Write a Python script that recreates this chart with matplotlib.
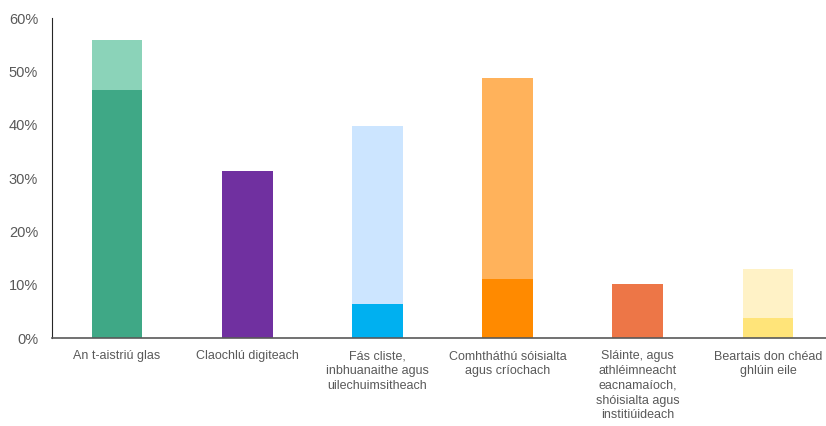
import matplotlib
matplotlib.use("Agg")
import matplotlib.pyplot as plt
import matplotlib.ticker as mticker

categories = [
    "An t-aistriú glas",
    "Claochlú digiteach",
    "Fás cliste,\ninbhuanaithe agus\nuilechuimsitheach",
    "Comhtháthú sóisialta\nagus críochach",
    "Sláinte, agus\nathléimneacht\neacnamaíoch,\nshóisialta agus\ninstitiúideach",
    "Beartais don chéad\nghlúin eile",
]
base_vals = [46.5, 31.3, 6.3, 11.0, 10.2, 3.8]
top_vals = [9.4, 0.0, 33.5, 37.8, 0.0, 9.1]

base_colors = ["#3FA886", "#7030A0", "#00B0F0", "#FF8A00", "#ED7647", "#FFE479"]
top_colors = ["#8BD3B9", "#7030A0", "#CCE5FF", "#FFB25B", "#ED7647", "#FFF2C6"]

plt.rcParams["font.family"] = ["Liberation Sans", "DejaVu Sans"]

fig = plt.figure(figsize=(8.26, 4.26), dpi=100)
ax = fig.add_axes([52 / 826, 88 / 426, 781 / 826, 320 / 426])

x = range(len(categories))
ax.bar(x, base_vals, width=0.39, color=base_colors)
ax.bar(x, top_vals, width=0.39, bottom=base_vals, color=top_colors)

ax.set_xlim(-0.5, 5.5)
ax.set_ylim(0, 60)
ax.set_yticks(range(0, 61, 10))
ax.yaxis.set_major_formatter(mticker.FuncFormatter(lambda v, _: f"{v:.0f}%"))
ax.set_xticks(list(x))
ax.set_xticklabels(categories, fontsize=9, color="#595959", linespacing=1.3)
ax.tick_params(axis="y", length=0, labelsize=10.5, labelcolor="#595959", pad=10)
ax.tick_params(axis="x", length=0, pad=9)

ax.spines["top"].set_visible(False)
ax.spines["right"].set_visible(False)
ax.spines["left"].set_color("#262626")
ax.spines["bottom"].set_color("#595959")
ax.spines["bottom"].set_linewidth(1.2)

fig.savefig("out.png", dpi=100)
